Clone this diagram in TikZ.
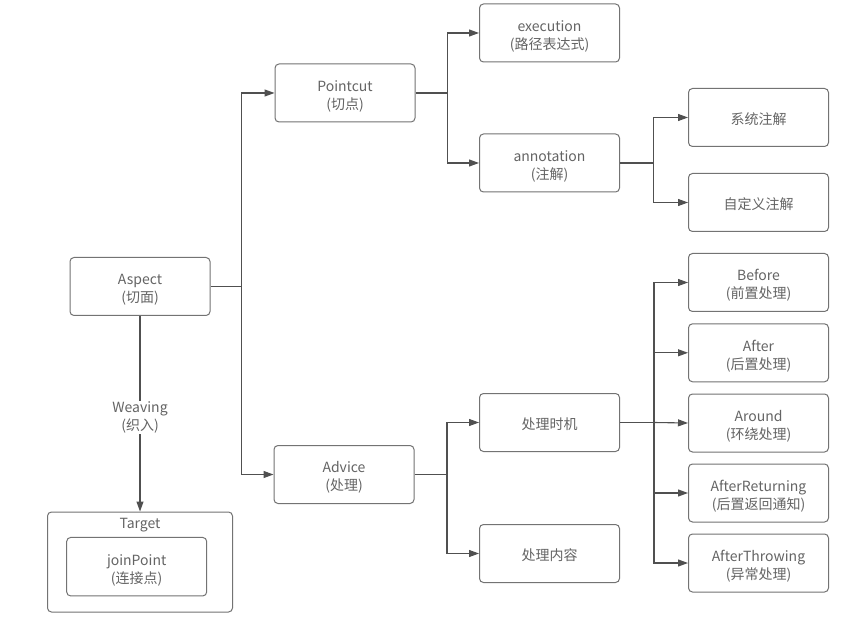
\documentclass[tikz,border=0pt]{standalone}
\usepackage{fontspec}
\setmainfont{Noto Sans CJK SC}
\usetikzlibrary{arrows.meta}
\definecolor{boxline}{HTML}{737373}
\definecolor{txt}{HTML}{646464}
\definecolor{connc}{HTML}{505050}
\newcommand\bxtext[1]{\raisebox{0pt}[\dimexpr\height+7.5pt\relax][\depth]{\def\arraystretch{1}\begin{tabular}{@{}c@{}}#1\end{tabular}}}
\begin{document}
\begin{tikzpicture}[x=1pt,y=-1pt,
  box/.style={draw=boxline, line width=1pt, rounded corners=4pt, minimum width=140pt, minimum height=58pt, text=txt, font=\fontsize{14}{18}\selectfont, inner sep=0pt},
  conn/.style={draw=connc, line width=1.1pt},
  arr/.style={conn, -{Triangle[length=10pt,width=7pt]}},
  lbl/.style={text=txt, align=center, font=\fontsize{14}{18}\selectfont, inner sep=1pt}]
\useasboundingbox (0,0) rectangle (867,617);
\fill[white] (0,0) rectangle (867,617);
% nodes
\node[box] (aspect) at (140,286.5) {\bxtext{Aspect\\(切面)}};
\node[box] (pointcut) at (345,93) {\bxtext{Pointcut\\(切点)}};
\node[box] (advice) at (344,474.5) {\bxtext{Advice\\(处理)}};
\node[box] (execution) at (549.5,33) {\bxtext{execution\\(路径表达式)}};
\node[box] (annotation) at (549.5,163) {\bxtext{annotation\\(注解)}};
\node[box] (sys) at (758.5,117.5) {\bxtext{系统注解}};
\node[box] (custom) at (758.5,202.5) {\bxtext{自定义注解}};
\node[box] (timing) at (549.5,422.5) {\bxtext{处理时机}};
\node[box] (content) at (549.5,553.5) {\bxtext{处理内容}};
\node[box] (before) at (758.5,282.5) {\bxtext{Before\\(前置处理)}};
\node[box] (after) at (758.5,352.8) {\bxtext{After\\(后置处理)}};
\node[box] (around) at (758.5,423) {\bxtext{Around\\(环绕处理)}};
\node[box] (afterret) at (758.5,493) {\bxtext{AfterReturning\\(后置返回通知)}};
\node[box] (afterthrow) at (758.5,563) {\bxtext{AfterThrowing\\(异常处理)}};
\node[box, minimum width=185pt, minimum height=100pt] (target) at (140,562) {};
\node[lbl] (targetlabel) at (140,525.5) {Target};
\node[box, minimum height=58.5pt] (joinpoint) at (136.7,566.7) {\bxtext{joinPoint\\(连接点)}};
% junctions
\coordinate (j1) at (241.5,286.5);
\coordinate (j2) at (447.5,93);
\coordinate (j3) at (653.5,163);
\coordinate (j4) at (447,474.5);
\coordinate (j5) at (654,422.5);
% connectors
\draw[arr] (aspect.east) -- (j1) |- (pointcut.west);
\draw[arr] (j1) |- (advice.west);
\draw[arr] (pointcut.east) -- (j2) |- (execution.west);
\draw[arr] (j2) |- (annotation.west);
\draw[arr] (annotation.east) -- (j3) |- (sys.west);
\draw[arr] (j3) |- (custom.west);
\draw[arr] (advice.east) -- (j4) |- (timing.west);
\draw[arr] (j4) |- (content.west);
\draw[arr] (timing.east) -- (j5) |- (before.west);
\draw[arr] (j5) |- (after.west);
\draw[arr] (j5) -- (around.west);
\draw[arr] (j5) |- (afterret.west);
\draw[arr] (j5) |- (afterthrow.west);
\draw[arr] (aspect.south) -- node[lbl, fill=white, pos=0.52] (weaving) {Weaving\\(织入)} (target.north);
\end{tikzpicture}
\end{document}
